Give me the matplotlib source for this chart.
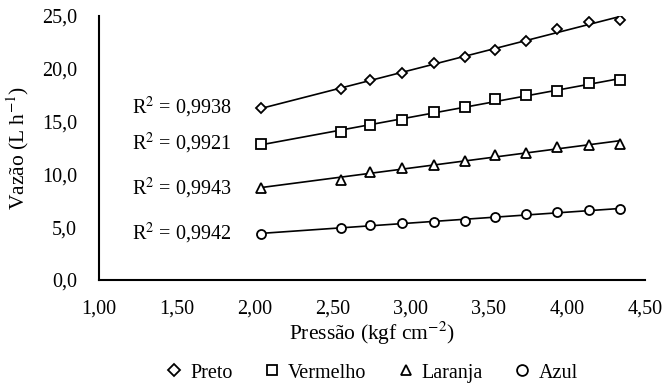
import numpy as np
import matplotlib.pyplot as plt

plt.rcParams['font.family'] = ['Liberation Serif', 'DejaVu Serif']
plt.rcParams['mathtext.fontset'] = 'stix'

# pressão (kgf cm-2)
pressao = [2.04, 2.55, 2.74, 2.94, 3.15, 3.35, 3.54, 3.74, 3.94, 4.14, 4.34]

# vazão (L h-1) por cor de gotejador
preto = [16.3, 18.1, 18.9, 19.6, 20.5, 21.1, 21.8, 22.6, 23.8, 24.4, 24.6]
vermelho = [12.9, 14.0, 14.7, 15.1, 15.9, 16.4, 17.1, 17.5, 17.9, 18.6, 18.9]
laranja = [8.7, 9.5, 10.2, 10.6, 10.9, 11.3, 11.8, 12.0, 12.6, 12.8, 12.9]
azul = [4.4, 4.9, 5.2, 5.4, 5.5, 5.6, 6.0, 6.2, 6.4, 6.6, 6.7]

nomes = ['Preto', 'Vermelho', 'Laranja', 'Azul']
r2 = ['0,9938', '0,9921', '0,9943', '0,9942']
marcadores = ['D', 's', '^', 'o']
tamanhos = [5, 6.5, 6.5, 6.5]

fig = plt.figure(figsize=(6.66, 3.87), dpi=100)
ax = fig.add_axes([0.149, 0.2765, 0.819, 0.6825])

x = np.array(pressao)
for serie, nome, m, ms, r in zip([preto, vermelho, laranja, azul], nomes, marcadores, tamanhos, r2):
    y = np.array(serie)
    a, b = np.polyfit(x, y, 1)  # linha de tendência
    ax.plot(x, a * x + b, color='k', lw=1.2, zorder=2)
    ax.plot(x, y, ls='none', marker=m, ms=ms, mfc='white', mec='k', mew=1.3,
            label=nome, zorder=3)
    ax.text(1.85, y[0], 'R$^{2}$ = ' + r, ha='right', va='center', fontsize=14.5)

ax.set_xlim(1.0, 4.5)
ax.set_ylim(0, 25)
ax.set_xticks(np.arange(1.0, 4.51, 0.5))
ax.set_yticks(np.arange(0, 25.1, 5))
ax.set_xticklabels([f'{v:.2f}'.replace('.', ',') for v in np.arange(1.0, 4.51, 0.5)])
ax.set_yticklabels([f'{v:.1f}'.replace('.', ',') for v in np.arange(0, 25.1, 5)])
ax.tick_params(length=0, labelsize=14.5)
ax.tick_params(axis='x', pad=14)
ax.tick_params(axis='y', pad=16)
for s in ['top', 'right']:
    ax.spines[s].set_visible(False)
for s in ['left', 'bottom']:
    ax.spines[s].set_linewidth(1.5)

ax.set_xlabel('Pressão (kgf cm$^{-2}$)', fontsize=15.5, labelpad=1)
ax.set_ylabel('Vazão (L h$^{-1}$)', fontsize=15.5, labelpad=8)

ax.legend(loc='center', bbox_to_anchor=(0.5, -0.352), ncol=4, frameon=False,
          fontsize=14.5, handlelength=0.8, handletextpad=0.4, columnspacing=1.55,
          borderpad=0.1, markerscale=1.2)

fig.savefig('out.png', dpi=100)
